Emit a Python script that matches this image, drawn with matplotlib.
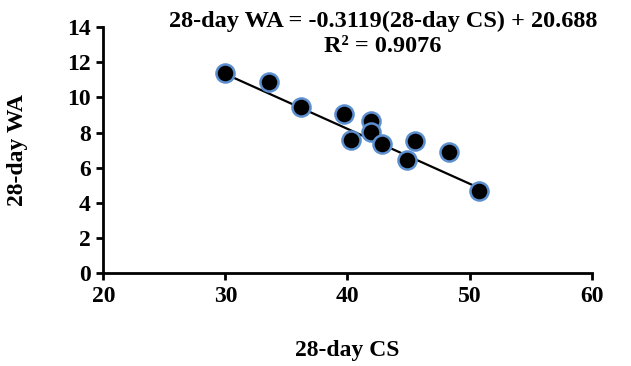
import matplotlib
matplotlib.use("Agg")
import matplotlib.pyplot as plt
import numpy as np

cs = [30.0, 33.55, 36.2, 39.75, 40.3, 41.9, 41.9, 42.8, 45.5, 44.9, 48.3, 50.8]
wa = [11.37, 10.86, 9.47, 9.07, 7.56, 8.67, 8.04, 7.37, 7.5, 6.47, 6.9, 4.7]
slope = -0.3119
intercept = 20.688
eq_text = "28-day WA = -0.3119(28-day CS) + 20.688\nR² = 0.9076"
xticks = [20, 30, 40, 50, 60]
yticks = [0, 2, 4, 6, 8, 10, 12, 14]

plt.rcParams['font.family'] = ['Liberation Serif', 'DejaVu Serif']
plt.rcParams['font.weight'] = 'bold'

fs = 17
fig = plt.figure(figsize=(6.31, 3.66), dpi=100)
ax = fig.add_axes([0.1637, 0.2533, 0.774, 0.6727])

xl = np.array([min(cs), max(cs)])
ax.plot(xl, slope * xl + intercept, color='black', lw=1.6, zorder=2)
ax.plot(cs, wa, 'o', ms=13, mfc='black', mec='#5B8FD0', mew=1.8, zorder=3)

ax.set_xlim(20, 60)
ax.set_ylim(0, 14)
ax.set_xticks(xticks)
ax.set_yticks(yticks)
for s in ['top', 'right']:
    ax.spines[s].set_visible(False)
for s in ['left', 'bottom']:
    ax.spines[s].set_linewidth(2)
ax.tick_params(direction='out', length=5, width=2, labelsize=fs, pad=4)
for lab in ax.get_xticklabels() + ax.get_yticklabels():
    lab.set_fontweight('bold')
ax.set_xlabel("28-day CS", fontsize=fs, fontweight='bold', labelpad=24)
ax.set_ylabel("28-day WA", fontsize=fs, fontweight='bold', labelpad=28)

fig.text(383 / 631, 1 - 34 / 366, eq_text, ha='center', va='center',
         fontsize=17.5, fontweight='bold', linespacing=1.3)

fig.savefig("out.png", dpi=100)
